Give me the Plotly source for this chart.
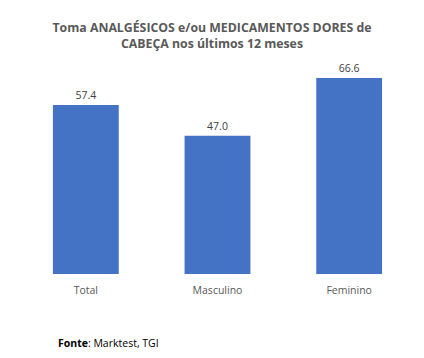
import plotly.graph_objects as go

categories = ["Total", "Masculino", "Feminino"]
values = [57.4, 47.0, 66.6]
value_labels = ["57.4", "47.0", "66.6"]

FONT = "Open Sans, Liberation Sans, sans-serif"

fig = go.Figure()
fig.add_trace(go.Bar(
    x=categories, y=values,
    marker=dict(color="#4472C4", line=dict(width=0)),
    text=value_labels, textposition="outside",
    textfont=dict(family=FONT, size=10.5, color="#404040"),
    cliponaxis=False,
))
fig.update_layout(
    width=424, height=358,
    margin=dict(l=20, r=9, t=68, b=84),
    paper_bgcolor="white", plot_bgcolor="white",
    bargap=0.5,
    showlegend=False,
    title=dict(
        text="<b>Toma ANALGÉSICOS e/ou MEDICAMENTOS DORES de<br>CABEÇA nos últimos 12 meses</b>",
        x=0.5, xanchor="center", y=0.91, yanchor="top",
        font=dict(family=FONT, size=12.3, color="#595959"),
    ),
    xaxis=dict(showline=False, ticks="", showgrid=False, ticklabelstandoff=8,
               tickfont=dict(family=FONT, size=10.5, color="#595959")),
    yaxis=dict(range=[0, 70], visible=False, showgrid=False),
    font=dict(family=FONT),
)
fig.add_annotation(
    text="<b>Fonte</b>: Marktest, TGI", xref="paper", yref="paper",
    x=0.091, xanchor="left", y=-0.335, yanchor="middle", showarrow=False,
    font=dict(family=FONT, size=10.5, color="black"),
)
fig.write_html("out.html", config={"displayModeBar": False},
               post_script="document.body.style.margin='0px';")
